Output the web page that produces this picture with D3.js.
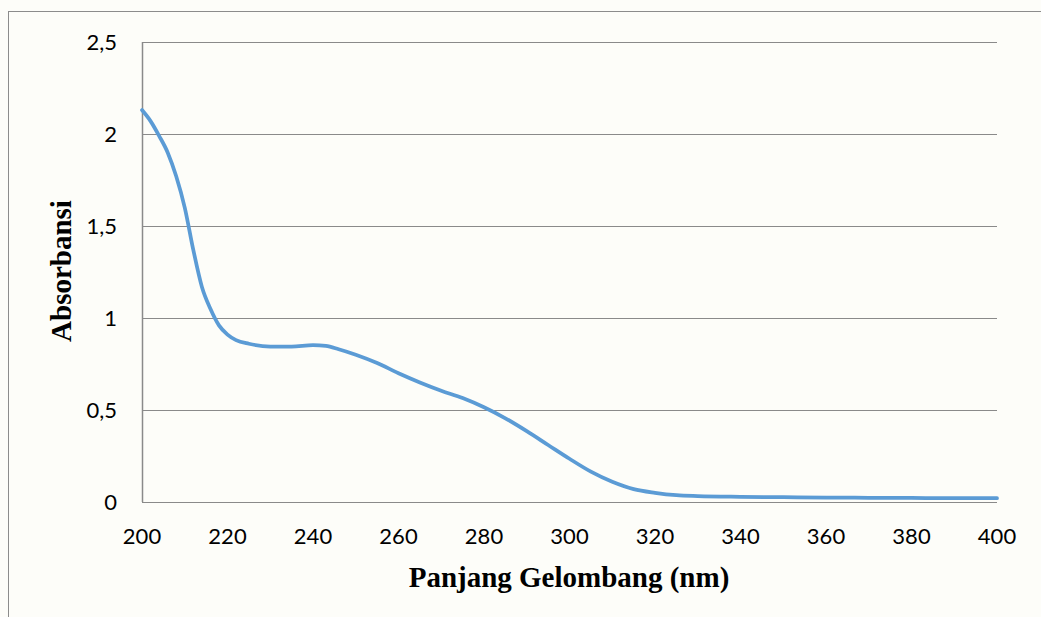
<!DOCTYPE html>
<html>
<head>
<meta charset="utf-8">
<script src="https://cdn.jsdelivr.net/npm/d3@7"></script>
<style>
  html, body { margin: 0; padding: 0; background: #fdfdf9; }
  svg { display: block; }
</style>
</head>
<body>
<svg id="chart" width="1041" height="617"></svg>
<script>
// UV-Vis absorption spectrum
const wavelengths = [200, 202, 204, 206, 208, 210, 212, 214, 216, 218, 220, 222, 225, 230, 235, 240, 243, 246, 250, 255, 260, 265, 270, 275, 280, 285, 290, 295, 300, 305, 310, 315, 320, 325, 330, 340, 350, 360, 370, 380, 390, 400];
const absorbance  = [2.13, 2.07, 1.99, 1.90, 1.77, 1.60, 1.37, 1.17, 1.05, 0.96, 0.91, 0.88, 0.86, 0.845, 0.845, 0.852, 0.848, 0.83, 0.80, 0.755, 0.70, 0.65, 0.605, 0.565, 0.515, 0.455, 0.385, 0.31, 0.235, 0.165, 0.11, 0.07, 0.05, 0.037, 0.032, 0.028, 0.026, 0.024, 0.023, 0.022, 0.021, 0.021];
const xTicks = [200, 220, 240, 260, 280, 300, 320, 340, 360, 380, 400];
const yTicks = [0, 0.5, 1, 1.5, 2, 2.5];
const yTickLabels = ["0", "0,5", "1", "1,5", "2", "2,5"];

const svg = d3.select("#chart");

// outer chart frame
svg.append("rect")
  .attr("x", 8.5).attr("y", 11.5)
  .attr("width", 1050).attr("height", 620)
  .attr("fill", "none").attr("stroke", "#8c8c8c").attr("stroke-width", 1);

const plot = { left: 142, right: 997, top: 42, bottom: 502 };

const x = d3.scaleLinear().domain([200, 400]).range([plot.left, plot.right]);
const y = d3.scaleLinear().domain([0, 2.5]).range([plot.bottom, plot.top]);

// horizontal gridlines
svg.append("g")
  .selectAll("line")
  .data(yTicks)
  .join("line")
  .attr("x1", plot.left).attr("x2", plot.right)
  .attr("y1", d => Math.round(y(d)) + 0.5).attr("y2", d => Math.round(y(d)) + 0.5)
  .attr("stroke", "#8a8a8a").attr("stroke-width", 1);

// vertical axis line
svg.append("line")
  .attr("x1", plot.left + 0.5).attr("x2", plot.left + 0.5)
  .attr("y1", plot.top).attr("y2", plot.bottom)
  .attr("stroke", "#8a8a8a").attr("stroke-width", 1.5);

// y tick labels
const labelFont = "Lato, 'Open Sans', sans-serif";
svg.append("g")
  .selectAll("text")
  .data(yTicks)
  .join("text")
  .attr("x", 117)
  .attr("y", d => y(d))
  .attr("dy", "0.36em")
  .attr("text-anchor", "end")
  .attr("font-family", labelFont)
  .attr("font-size", 22)
  .attr("fill", "#000")
  .text((d, i) => yTickLabels[i]);

// x tick labels
svg.append("g")
  .selectAll("text")
  .data(xTicks)
  .join("text")
  .attr("x", d => x(d))
  .attr("y", 536)
  .attr("dy", "0.36em")
  .attr("text-anchor", "middle")
  .attr("font-family", labelFont)
  .attr("font-size", 22)
  .attr("fill", "#000")
  .text(d => d);

// spectrum line
const line = d3.line()
  .x((d, i) => x(wavelengths[i]))
  .y(d => y(d))
  .curve(d3.curveMonotoneX);

svg.append("path")
  .datum(absorbance)
  .attr("d", line)
  .attr("fill", "none")
  .attr("stroke", "#5b9bd5")
  .attr("stroke-width", 3.75)
  .attr("stroke-linejoin", "round")
  .attr("stroke-linecap", "round");

// axis titles
svg.append("text")
  .attr("x", 569).attr("y", 587)
  .attr("text-anchor", "middle")
  .attr("font-family", "'Liberation Serif', 'Times New Roman', serif")
  .attr("font-weight", "bold")
  .attr("font-size", 29)
  .attr("fill", "#000")
  .text("Panjang Gelombang (nm)");

svg.append("text")
  .attr("transform", "translate(71,271) rotate(-90)")
  .attr("text-anchor", "middle")
  .attr("font-family", "'Liberation Serif', 'Times New Roman', serif")
  .attr("font-weight", "bold")
  .attr("font-size", 29)
  .attr("fill", "#000")
  .text("Absorbansi");
</script>
</body>
</html>
